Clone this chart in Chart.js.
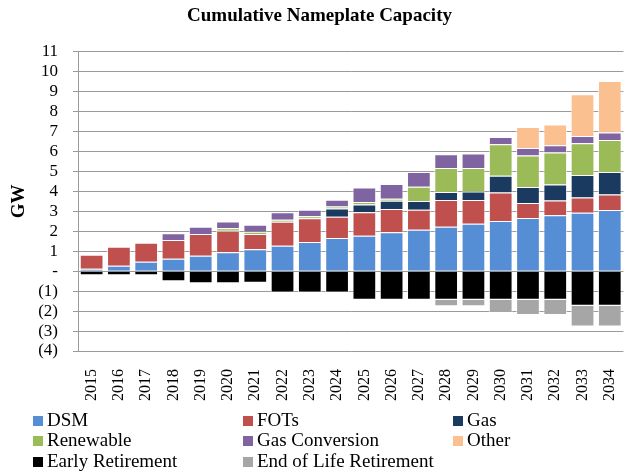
<!DOCTYPE html>
<html>
<head>
<meta charset="utf-8">
<script src="https://cdn.jsdelivr.net/npm/chart.js@4.4.0/dist/chart.umd.min.js"></script>
<style>
  html, body { margin: 0; padding: 0; background: #fff; }
  #wrap { position: relative; width: 639px; height: 472px; overflow: hidden; }
  #chart { position: absolute; left: 0; top: 0; }
  .lg { position: absolute; font: 19px 'Liberation Serif', 'Times New Roman', serif; color: #000; line-height: 20px; white-space: nowrap; }
  .lg i { position: absolute; left: -14px; top: 6px; width: 10px; height: 10px; }
</style>
</head>
<body>
<div id="wrap">
  <canvas id="chart" width="639" height="410"></canvas>
  <div id="legend"></div>
</div>
<script>
// ── Data (GW) ─────────────────────────────────────────────────────
const years = ['2015','2016','2017','2018','2019','2020','2021','2022','2023','2024',
               '2025','2026','2027','2028','2029','2030','2031','2032','2033','2034'];

const dsm       = [0.12, 0.27, 0.47, 0.62, 0.78, 0.95, 1.10, 1.28, 1.47, 1.67, 1.78, 1.95, 2.08, 2.23, 2.38, 2.52, 2.67, 2.80, 2.93, 3.07];
const fots      = [0.71, 0.96, 0.96, 0.95, 1.09, 1.08, 0.77, 1.20, 1.18, 1.06, 1.17, 1.17, 1.00, 1.34, 1.19, 1.43, 0.75, 0.75, 0.77, 0.78];
const gas       = [0, 0, 0, 0, 0, 0, 0, 0, 0, 0.42, 0.40, 0.41, 0.44, 0.40, 0.43, 0.83, 0.80, 0.80, 1.12, 1.13];
const renewable = [0, 0, 0, 0, 0, 0.13, 0.11, 0.10, 0.10, 0.10, 0.12, 0.10, 0.71, 1.20, 1.18, 1.59, 1.58, 1.60, 1.60, 1.60];
const gasConv   = [0, 0, 0, 0.33, 0.36, 0.33, 0.35, 0.37, 0.33, 0.33, 0.73, 0.74, 0.74, 0.70, 0.72, 0.36, 0.38, 0.37, 0.36, 0.37];
const other     = [0, 0, 0, 0, 0, 0, 0, 0, 0, 0, 0, 0, 0, 0, 0, 0, 1.05, 1.03, 2.09, 2.58];
const earlyRet  = [-0.20, -0.20, -0.20, -0.50, -0.60, -0.60, -0.58, -1.07, -1.07, -1.07, -1.43, -1.43, -1.43, -1.43, -1.43, -1.43, -1.43, -1.43, -1.73, -1.73];
const eolRet    = [0, 0, 0, 0, 0, 0, 0, 0, 0, 0, 0, 0, 0, -0.33, -0.33, -0.67, -0.77, -0.77, -1.04, -1.04];

const yMin = -4, yMax = 11;

// ── Series ────────────────────────────────────────────────────────
const series = [
  { label: 'DSM',                    data: dsm,       color: '#558ED5' },
  { label: 'FOTs',                   data: fots,      color: '#C0504D' },
  { label: 'Gas',                    data: gas,       color: '#1B3A5F' },
  { label: 'Renewable',              data: renewable, color: '#9BBB59' },
  { label: 'Gas Conversion',         data: gasConv,   color: '#8064A2' },
  { label: 'Other',                  data: other,     color: '#FAC090' },
  { label: 'Early Retirement',       data: earlyRet,  color: '#000000' },
  { label: 'End of Life Retirement', data: eolRet,    color: '#A6A6A6' },
];

const serif = "'Liberation Serif', 'Times New Roman', serif";
const gridGray = '#9a9a9a';

const chart = new Chart(document.getElementById('chart'), {
  type: 'bar',
  data: {
    labels: years,
    datasets: series.map(s => ({
      label: s.label,
      data: s.data,
      backgroundColor: s.color,
      borderColor: 'rgba(255,255,255,0.7)',
      borderWidth: 1,
      barPercentage: 0.87,
      categoryPercentage: 1,
    })),
  },
  options: {
    responsive: false,
    animation: false,
    layout: { padding: 0 },
    plugins: {
      legend: { display: false },
      tooltip: { enabled: false },
      title: {
        display: true,
        text: 'Cumulative Nameplate Capacity',
        color: '#000',
        font: { family: serif, size: 19, weight: 'bold' },
        padding: { top: 5, bottom: 24 },
      },
    },
    scales: {
      x: {
        stacked: true,
        grid: { display: false },
        border: { display: false },
        ticks: {
          color: '#000',
          font: { family: serif, size: 16 },
          minRotation: 90,
          maxRotation: 90,
          autoSkip: false,
          padding: 10,
        },
        afterFit: scale => { scale.height = 59; },
      },
      y: {
        stacked: true,
        min: yMin,
        max: yMax,
        grid: { color: gridGray, lineWidth: 1, tickLength: 5, tickColor: gridGray },
        border: { color: gridGray },
        ticks: {
          stepSize: 1,
          autoSkip: false,
          color: '#000',
          padding: 15,
          font: { family: serif, size: 17 },
          callback: v => v > 0 ? String(v) : v === 0 ? '-' : '(' + (-v) + ')',
        },
        title: {
          display: true,
          text: 'GW',
          color: '#000',
          font: { family: serif, size: 19, weight: 'bold' },
          padding: { top: 8, bottom: 0 },
        },
        afterFit: scale => { scale.width = 78; },
      },
    },
  },
});

// ── HTML legend (3 columns) ───────────────────────────────────────
const legendCols = [47, 257, 467];
const legendRows = [410, 430, 451];
const legendEl = document.getElementById('legend');
chart.data.datasets.forEach((ds, i) => {
  const item = document.createElement('div');
  item.className = 'lg';
  item.style.left = legendCols[i % 3] + 'px';
  item.style.top = legendRows[Math.floor(i / 3)] + 'px';
  item.innerHTML = '<i style="background:' + ds.backgroundColor + '"></i>' + ds.label;
  legendEl.appendChild(item);
});
</script>
</body>
</html>
